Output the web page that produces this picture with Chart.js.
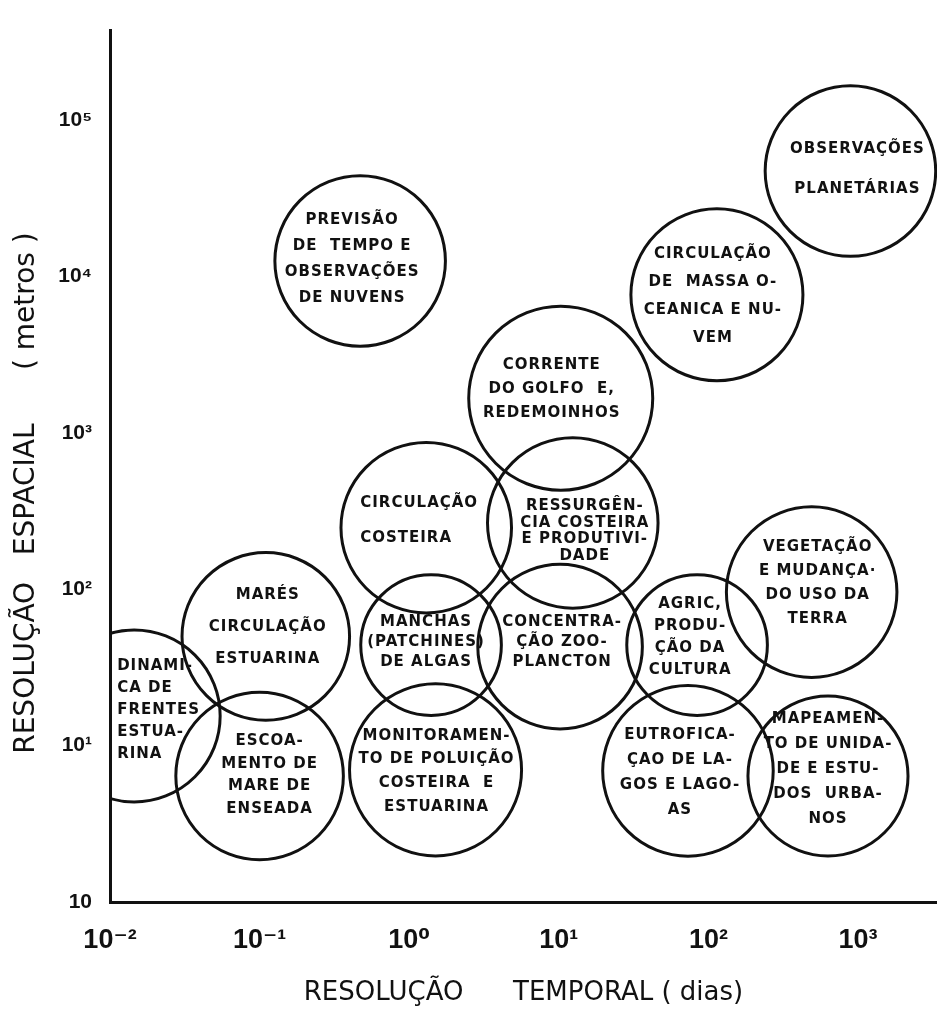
<!DOCTYPE html>
<html>
<head>
<meta charset="utf-8">
<script src="https://cdn.jsdelivr.net/npm/chart.js@4/dist/chart.umd.min.js"></script>
<style>
  html, body { margin: 0; padding: 0; background: #fff; }
  #wrap { width: 937px; height: 1009px; }
</style>
</head>
<body>
<div id="wrap"><canvas id="escalas" width="937" height="1009"></canvas></div>
<script>
// centro de cada aplicação: resolução temporal (dias) x resolução espacial (metros)
const tempoDias = [0.47, 890, 114, 10.3, 1.3, 12.4, 490, 0.11, 1.4, 10.2, 84, 0.0145, 0.10, 1.5, 73, 630];
const espacoMetros = [12600, 47400, 7660, 1670, 248, 266, 96, 50, 44, 43, 44, 15.5, 6.4, 7.0, 6.9, 6.4];
// meia largura de cada circulo, em decadas de tempo
const meiaFaixa = [0.57, 0.57, 0.575, 0.615, 0.57, 0.57, 0.57, 0.56, 0.47, 0.55, 0.47, 0.575, 0.56, 0.575, 0.57, 0.535];

const rotulos = [
  ['PREVISÃO', 'DE  TEMPO E', 'OBSERVAÇÕES', 'DE NUVENS'],
  ['OBSERVAÇÕES', 'PLANETÁRIAS'],
  ['CIRCULAÇÃO', 'DE  MASSA O-', 'CEANICA E NU-', 'VEM'],
  ['CORRENTE', 'DO GOLFO  E,', 'REDEMOINHOS'],
  ['CIRCULAÇÃO', 'COSTEIRA'],
  ['RESSURGÊN-', 'CIA COSTEIRA', 'E PRODUTIVI-', 'DADE'],
  ['VEGETAÇÃO', 'E MUDANÇA·', 'DO USO DA', 'TERRA'],
  ['MARÉS', 'CIRCULAÇÃO', 'ESTUARINA'],
  ['MANCHAS', '(PATCHINES)', 'DE ALGAS'],
  ['CONCENTRA-', 'ÇÃO ZOO-', 'PLANCTON'],
  ['AGRIC,', 'PRODU-', 'ÇÃO DA', 'CULTURA'],
  ['DINAMI-', 'CA DE', 'FRENTES', 'ESTUA-', 'RINA'],
  ['ESCOA-', 'MENTO DE', 'MARE DE', 'ENSEADA'],
  ['MONITORAMEN-', 'TO DE POLUIÇÃO', 'COSTEIRA  E', 'ESTUARINA'],
  ['EUTROFICA-', 'ÇAO DE LA-', 'GOS E LAGO-', 'AS'],
  ['MAPEAMEN-', 'TO DE UNIDA-', 'DE E ESTU-', 'DOS  URBA-', 'NOS']
];

const xTicks = [0.01, 0.1, 1, 10, 100, 1000];
const xTickLabels = ['10⁻²', '10⁻¹', '10⁰', '10¹', '10²', '10³'];
const yTicks = [1, 10, 100, 1000, 10000, 100000];
const yTickLabels = ['10', '10¹', '10²', '10³', '10⁴', '10⁵'];

// ajuste fino dos textos dentro dos circulos (px)
const labelDx = [-8, 7, -4, -9, -66, 12, 6, 2, -5, 2, -7, -17, 10, 1, -8, 0];
const labelDy = [-1.5, -2, 1, -9, -7.5, 8, -9, -9, -3, -5, -7.5, -6, -1, 1.5, 2, -7];
const labelGap = [26, 40, 28, 24, 35, 16.5, 24, 32, 20, 20, 22, 22, 22.7, 23.7, 25, 25];
const labelAlign = ['center', 'center', 'center', 'center', 'left', 'center', 'center', 'center',
  'center', 'center', 'center', 'left', 'center', 'center', 'center', 'center'];

const tinta = '#111';

const rotulosPlugin = {
  id: 'rotulos',
  afterDatasetsDraw(chart) {
    const {ctx, scales: {x, y}} = chart;
    ctx.save();
    ctx.font = 'bold 15px "DejaVu Sans", sans-serif';
    ctx.fillStyle = tinta;
    ctx.textBaseline = 'middle';
    if ('letterSpacing' in ctx) ctx.letterSpacing = '1px';
    rotulos.forEach((linhas, i) => {
      const cx = x.getPixelForValue(tempoDias[i]) + labelDx[i];
      const cy = y.getPixelForValue(espacoMetros[i]) + labelDy[i];
      ctx.textAlign = labelAlign[i];
      linhas.forEach((t, k) => {
        ctx.fillText(t, cx, cy + (k - (linhas.length - 1) / 2) * labelGap[i]);
      });
    });
    ctx.restore();
  }
};

const raio = (c) => {
  const xs = c.chart.scales.x;
  if (!xs || c.raw == null) return 0;
  const p0 = xs.getPixelForValue(c.raw.x);
  const p1 = xs.getPixelForValue(c.raw.x * Math.pow(10, meiaFaixa[c.dataIndex]));
  const r = Math.abs(p1 - p0);
  return isFinite(r) ? r : 0;
};

const tickFont = (size) => ({family: '"Liberation Sans Narrow", "Liberation Sans", "DejaVu Sans", sans-serif', size: size, weight: 'bold'});

new Chart(document.getElementById('escalas'), {
  type: 'scatter',
  data: {
    datasets: [{
      label: 'Aplicações',
      data: tempoDias.map((t, i) => ({x: t, y: espacoMetros[i]})),
      showLine: false,
      pointRadius: raio,
      pointHoverRadius: raio,
      pointBorderWidth: 3,
      pointHoverBorderWidth: 3,
      pointBorderColor: tinta,
      pointBackgroundColor: 'rgba(0,0,0,0)',
      clip: 0
    }]
  },
  options: {
    responsive: false,
    animation: false,
    events: [],
    devicePixelRatio: 1,
    layout: {padding: {top: 8, right: 0, bottom: 0, left: 0}},
    plugins: {legend: {display: false}, tooltip: {enabled: false}},
    scales: {
      x: {
        type: 'logarithmic',
        min: 0.01,
        max: 3373,
        afterBuildTicks: (s) => { s.ticks = xTicks.map(v => ({value: v})); },
        afterFit: (s) => { s.height = 107; },
        grid: {display: false, drawTicks: false},
        border: {display: true, width: 3, color: tinta},
        ticks: {
          autoSkip: false,
          maxRotation: 0,
          padding: 22,
          color: tinta,
          font: tickFont(27),
          callback: (v, i) => xTickLabels[i]
        },
        title: {
          display: true,
          text: 'RESOLUÇÃO      TEMPORAL ( dias)',
          color: tinta,
          font: {family: '"DejaVu Sans", sans-serif', size: 26, weight: 'normal'},
          padding: {top: 0, bottom: 0}
        }
      },
      y: {
        type: 'logarithmic',
        min: 1,
        max: 375000,
        afterBuildTicks: (s) => { s.ticks = yTicks.map(v => ({value: v})); },
        afterFit: (s) => { s.width = 110; },
        grid: {display: false, drawTicks: false},
        border: {display: true, width: 3, color: tinta},
        ticks: {
          autoSkip: false,
          padding: 18,
          color: tinta,
          font: tickFont(21),
          callback: (v, i) => yTickLabels[i]
        },
        title: {
          display: true,
          // espacos finais descem o titulo como no original
          text: 'RESOLUÇÃO   ESPACIAL      ( metros )      ',
          color: tinta,
          font: {family: '"DejaVu Sans", sans-serif', size: 28, weight: 'normal'},
          padding: {top: 10, bottom: 0}
        }
      }
    }
  },
  plugins: [rotulosPlugin]
});
</script>
</body>
</html>
